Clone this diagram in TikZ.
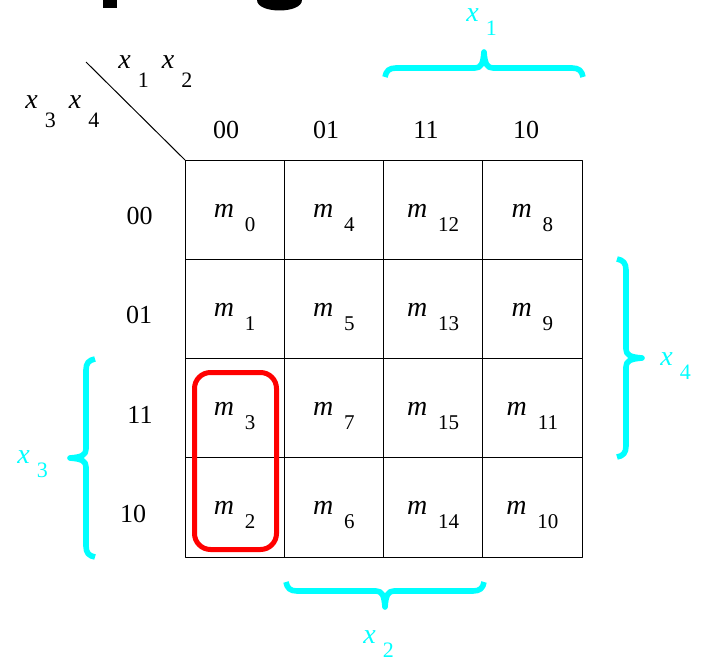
\documentclass[tikz,border=0pt]{standalone}
\usepackage{fontspec}
\setmainfont{Liberation Serif}
\definecolor{aqua}{RGB}{0,255,255}
\definecolor{loopred}{RGB}{255,0,0}

\newcommand{\mterm}[1]{\smash{\lower3.75pt\hbox{\fontsize{14}{16}\selectfont\itshape m\hspace{5.5pt}\lower7pt\hbox{\upshape\fontsize{10.5}{12}\selectfont #1}}}}
\newcommand{\xvar}[2][7pt]{\hbox{\fontsize{14}{16}\selectfont\itshape x\hspace{3.5pt}\lower#1\hbox{\upshape\fontsize{11}{13}\selectfont #2}}}
% brace of length 198 along local x, tip on local +y
\newcommand{\bracepath}{(0,0) .. controls (1,6) and (4,9) .. (11,9) -- (90,9) .. controls (96,9) and (98,13) .. (99,25) .. controls (100,13) and (102,9) .. (108,9) -- (187,9) .. controls (194,9) and (197,6) .. (198,0)}

\begin{document}
\begin{tikzpicture}[x=0.5pt,y=0.5pt,line join=round,
  cell/.style={draw,line width=0.5pt,minimum width=49.625pt,minimum height=49.625pt,inner sep=0pt,outer sep=0pt,anchor=south west},
  code/.style={font=\fontsize{13}{15}\selectfont,anchor=base,inner sep=0pt},
  varlbl/.style={anchor=base west,inner sep=0pt},
  brc/.style={aqua,line width=2.8pt},
  grp/.style={loopred,line width=2.5pt,rounded corners=8pt}]
\useasboundingbox (0,0) rectangle (701,661);
% cut-off title glyphs
\fill (103,661) rectangle (117,653);
\fill (257,661) .. controls (257,647) and (302,647) .. (302,661) -- cycle;
% map cells
\node[cell] (m0) at (185,401.75) {\mterm{0}};
\node[cell] (m4) at (284.25,401.75) {\mterm{4}};
\node[cell] (m12) at (383.5,401.75) {\mterm{12}};
\node[cell] (m8) at (482.75,401.75) {\mterm{8}};
\node[cell] (m1) at (185,302.5) {\mterm{1}};
\node[cell] (m5) at (284.25,302.5) {\mterm{5}};
\node[cell] (m13) at (383.5,302.5) {\mterm{13}};
\node[cell] (m9) at (482.75,302.5) {\mterm{9}};
\node[cell] (m3) at (185,203.25) {\mterm{3}};
\node[cell] (m7) at (284.25,203.25) {\mterm{7}};
\node[cell] (m15) at (383.5,203.25) {\mterm{15}};
\node[cell] (m11) at (482.75,203.25) {\mterm{11}};
\node[cell] (m2) at (185,104) {\mterm{2}};
\node[cell] (m6) at (284.25,104) {\mterm{6}};
\node[cell] (m14) at (383.5,104) {\mterm{14}};
\node[cell] (m10) at (482.75,104) {\mterm{10}};
% codes
\node[code] (col00) at (226,523) {00};
\node[code] (col01) at (326,523) {01};
\node[code] (col11) at (426,523) {11};
\node[code] (col10) at (526,523) {10};
\node[code] (row00) at (139.5,437) {00};
\node[code] (row01) at (139,338) {01};
\node[code] (row11) at (140,238) {11};
\node[code] (row10) at (133,139) {10};
% corner
\coordinate (corner) at (86,599);
\draw[line width=0.5pt] (corner) -- (m0.north west);
\node[varlbl] (x12) at (118,593) {\xvar[9.5pt]{1}\hspace{6.5pt}\xvar[9.5pt]{2}};
\node[varlbl] (x34) at (25,553) {\xvar[9.5pt]{3}\hspace{6.5pt}\xvar[9.5pt]{4}};
% group
\draw[grp] (194.5,288.5) rectangle (276.5,111.5);
% braces
\coordinate (b1) at (385,584);
\coordinate (b2) at (484,79);
\coordinate (b4) at (617,402);
\coordinate (b3) at (95,104);
\draw[brc,shift={(b1)}] \bracepath;
\draw[brc,shift={(b2)},rotate=180] \bracepath;
\draw[brc,shift={(b4)},rotate=-90] \bracepath;
\draw[brc,shift={(b3)},rotate=90] \bracepath;
\node[varlbl,aqua] (x1) at (466,640) {\xvar{1}};
\node[varlbl,aqua] (x2) at (363,18) {\xvar{2}};
\node[varlbl,aqua] (x4) at (660,296) {\xvar{4}};
\node[varlbl,aqua] (x3) at (17,198) {\xvar{3}};
\end{tikzpicture}
\end{document}
